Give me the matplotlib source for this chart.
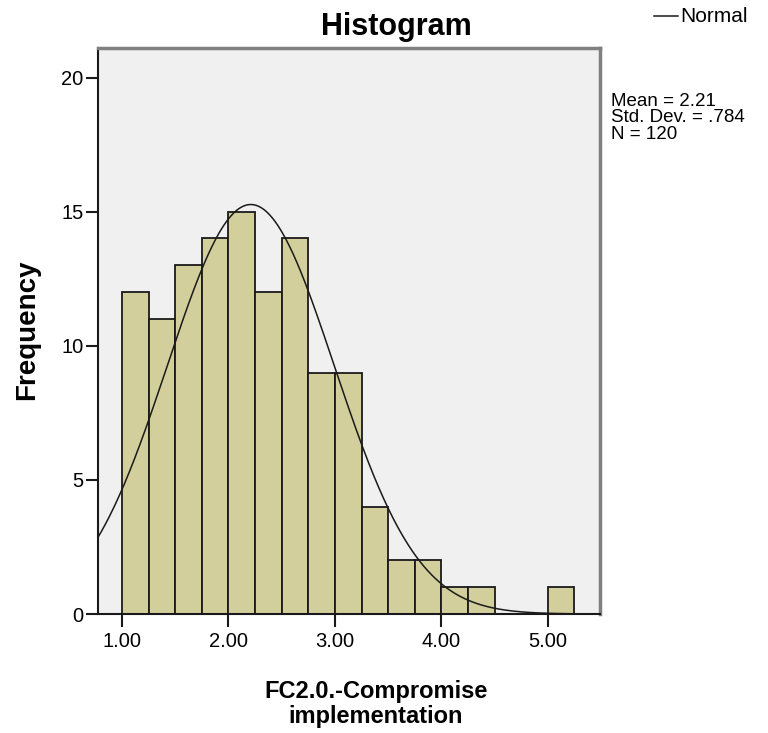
import numpy as np
import matplotlib
matplotlib.use('Agg')
import matplotlib.pyplot as plt

plt.rcParams['font.family'] = ['Liberation Sans', 'DejaVu Sans']

# Histogram bins (width 0.25 starting at 1.00) and counts
BIN_EDGES = [1.00, 1.25, 1.50, 1.75, 2.00, 2.25, 2.50, 2.75, 3.00,
             3.25, 3.50, 3.75, 4.00, 4.25, 4.50, 4.75, 5.00, 5.25]
COUNTS = [12, 11, 13, 14, 15, 12, 14, 9, 9, 4, 2, 2, 1, 1, 0, 0, 1]
MEAN = 2.21
STD = 0.784
N = 120
X_TICKS = [1.0, 2.0, 3.0, 4.0, 5.0]
Y_TICKS = [0, 5, 10, 15, 20]

BAR_COLOR = '#D3CF9C'
BG_COLOR = '#F0F0F0'


def normal_curve(x, mean, sd, n, width):
    return n * width / (sd * np.sqrt(2 * np.pi)) * np.exp(-0.5 * ((x - mean) / sd) ** 2)


def main():
    fig = plt.figure(figsize=(7.68, 7.33), dpi=100)
    ax = fig.add_axes([98 / 768, 1 - 614 / 733, 502 / 768, 566 / 733])
    ax.set_facecolor(BG_COLOR)

    xmin, xmax = 0.775, 5.49
    ax.set_xlim(xmin, xmax)
    ax.set_ylim(0, 21.1)

    lefts = BIN_EDGES[:-1]
    widths = np.diff(BIN_EDGES)
    ax.bar(lefts, COUNTS, width=widths, align='edge', color=BAR_COLOR,
           edgecolor='#1a1a1a', linewidth=1.3, zorder=2)

    xs = np.linspace(xmin, xmax, 400)
    ys = normal_curve(xs, MEAN, STD, N, widths[0])
    ax.plot(xs, ys, color='#1a1a1a', linewidth=1.1, zorder=3)

    ax.set_xticks(X_TICKS)
    ax.set_xticklabels([f"{t:.2f}" for t in X_TICKS])
    ax.set_yticks(Y_TICKS)
    ax.tick_params(axis='both', direction='out', length=9, width=1.5,
                   color='#1a1a1a', labelsize=14.5, pad=1.5)
    ax.tick_params(axis='x', pad=4)

    for side in ['left', 'bottom']:
        ax.spines[side].set_color('#1a1a1a')
        ax.spines[side].set_linewidth(1.5)
    for side in ['top', 'right']:
        ax.spines[side].set_color('#808080')
        ax.spines[side].set_linewidth(2.5)

    fig.text(396 / 768, 1 - 27 / 733, "Histogram", ha='center', va='center',
             fontsize=22, fontweight='bold')
    fig.text(376 / 768, 1 - 704 / 733, "FC2.0.-Compromise\nimplementation",
             ha='center', va='center', fontsize=17, fontweight='bold',
             linespacing=1.1)
    fig.text(27 / 768, 1 - 330 / 733, "Frequency", ha='center', va='center',
             rotation=90, fontsize=20, fontweight='bold')

    # legend (outside, top right)
    fig.add_artist(plt.Line2D([654 / 768, 678 / 768], [1 - 16 / 733, 1 - 16 / 733],
                              color='#1a1a1a', linewidth=1.1,
                              transform=fig.transFigure))
    fig.text(680 / 768, 1 - 16 / 733, "Normal", ha='left', va='center', fontsize=15)

    fig.text(611 / 768, 1 - 118 / 733,
             f"Mean = {MEAN:.2f}\nStd. Dev. = .784\nN = {N}",
             ha='left', va='center', fontsize=13.5, linespacing=0.97)

    plt.savefig('out.png', dpi=100)


if __name__ == "__main__":
    main()
